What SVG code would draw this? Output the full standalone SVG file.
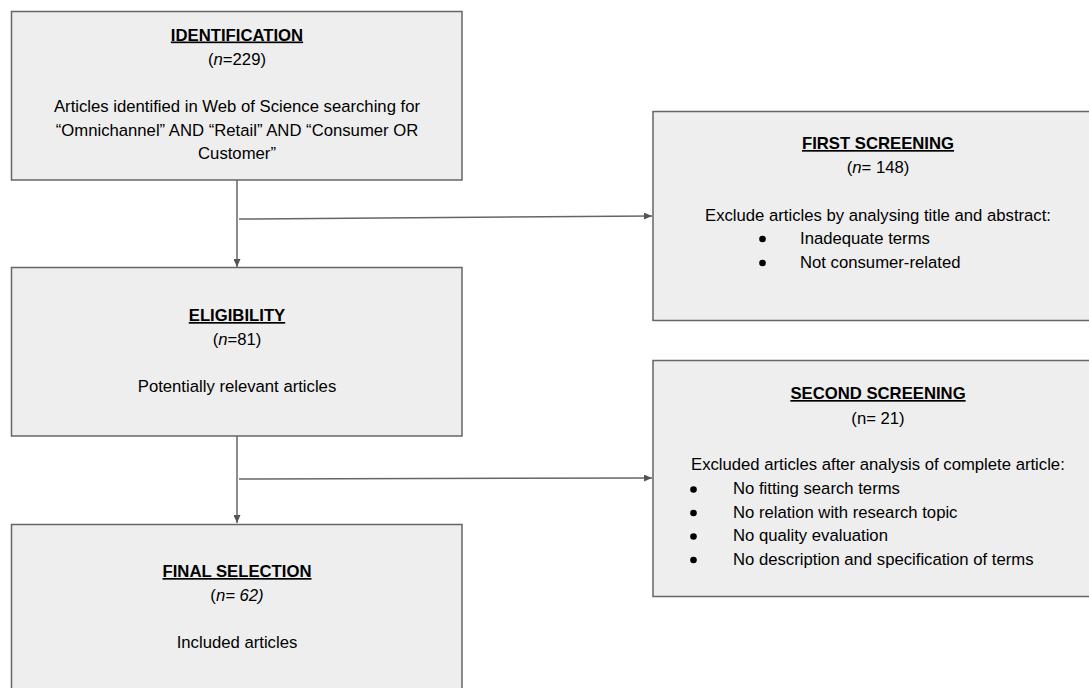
<svg xmlns="http://www.w3.org/2000/svg" width="1089" height="688" viewBox="0 0 1089 688">
<defs>
<style>
.box{fill:#eeeeee;stroke:#666666;stroke-width:1.5}
.t{font-family:"Liberation Sans",Arial,sans-serif;font-size:16.7px;fill:#000}
.c{text-anchor:middle}
.h{font-weight:bold;text-decoration:underline}
.edge{stroke:#666666;stroke-width:1.5;fill:none;marker-end:url(#arr)}
</style>
<marker id="arr" viewBox="0 0 10 10" refX="10" refY="5" markerWidth="8" markerHeight="7" markerUnits="userSpaceOnUse" orient="auto" preserveAspectRatio="none">
<path d="M0,0 L10,5 L0,10 z" fill="#555555"/>
</marker>
</defs>
<rect width="1089" height="688" fill="#ffffff"/>
<g id="connectors">
<line class="edge" x1="237" y1="180" x2="237" y2="267"/>
<line class="edge" x1="239" y1="219" x2="652" y2="216"/>
<line class="edge" x1="237" y1="436" x2="237" y2="523"/>
<line class="edge" x1="239" y1="479" x2="652" y2="478"/>
</g>
<g id="identification">
<rect class="box" x="11.5" y="11.5" width="450.5" height="168.5"/>
<text class="t c h" x="237" y="40.5">IDENTIFICATION</text>
<text class="t c" x="237" y="65">(<tspan font-style="italic">n</tspan>=229)</text>
<text class="t c" x="237" y="112">Articles identified in Web of Science searching for</text>
<text class="t c" x="237" y="136">“Omnichannel” AND “Retail” AND “Consumer OR</text>
<text class="t c" x="237" y="159">Customer”</text>
</g>
<g id="eligibility">
<rect class="box" x="11.5" y="267.5" width="450.5" height="168.5"/>
<text class="t c h" x="237" y="321">ELIGIBILITY</text>
<text class="t c" x="237" y="344.5">(<tspan font-style="italic">n</tspan>=81)</text>
<text class="t c" x="237" y="391.5">Potentially relevant articles</text>
</g>
<g id="final-selection">
<rect class="box" x="11.5" y="524.5" width="450.5" height="170"/>
<text class="t c h" x="237" y="577">FINAL SELECTION</text>
<text class="t c" x="237" y="601" font-style="italic"><tspan font-style="normal">(</tspan>n= 62)</text>
<text class="t c" x="237" y="648">Included articles</text>
</g>
<g id="first-screening">
<rect class="box" x="653" y="111.5" width="450" height="209"/>
<text class="t c h" x="878" y="149">FIRST SCREENING</text>
<text class="t c" x="878" y="172.5">(<tspan font-style="italic">n</tspan>= 148)</text>
<text class="t c" x="878" y="220.5">Exclude articles by analysing title and abstract:</text>
<circle cx="762.5" cy="239" r="3.3" fill="#000"/>
<text class="t" x="800" y="244">Inadequate terms</text>
<circle cx="762.5" cy="263" r="3.3" fill="#000"/>
<text class="t" x="800" y="267.5">Not consumer-related</text>
</g>
<g id="second-screening">
<rect class="box" x="653" y="360.5" width="450" height="236"/>
<text class="t c h" x="878" y="399">SECOND SCREENING</text>
<text class="t c" x="878" y="423.5">(n= 21)</text>
<text class="t" x="691" y="470">Excluded articles after analysis of complete article:</text>
<circle cx="693.5" cy="489.5" r="3.3" fill="#000"/>
<text class="t" x="733" y="494">No fitting search terms</text>
<circle cx="693.5" cy="513" r="3.3" fill="#000"/>
<text class="t" x="733" y="517.5">No relation with research topic</text>
<circle cx="693.5" cy="536.5" r="3.3" fill="#000"/>
<text class="t" x="733" y="541">No quality evaluation</text>
<circle cx="693.5" cy="560" r="3.3" fill="#000"/>
<text class="t" x="733" y="564.5">No description and specification of terms</text>
</g>
</svg>
